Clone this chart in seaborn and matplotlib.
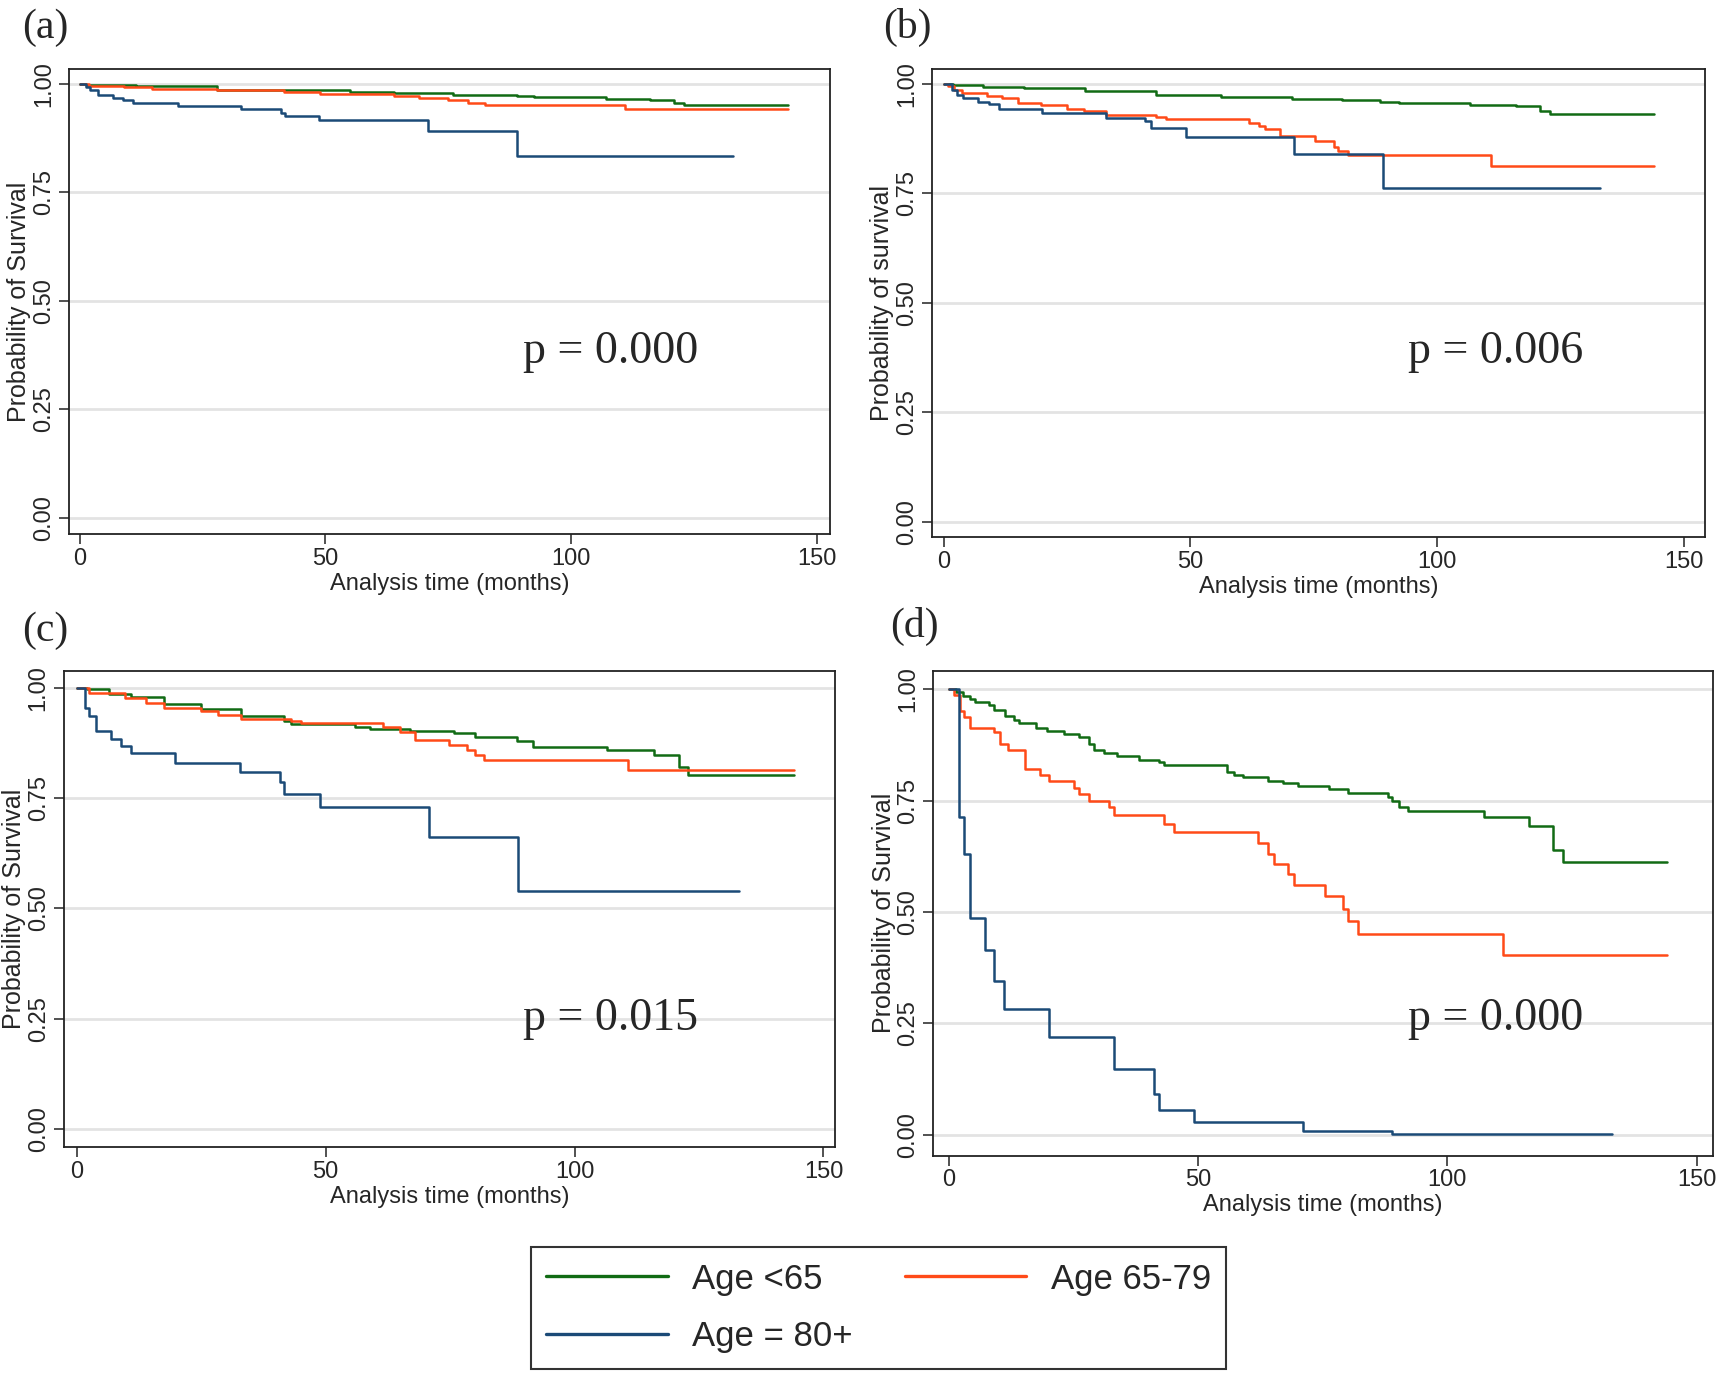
import numpy as np
import pandas as pd
import matplotlib
matplotlib.use('Agg')
import matplotlib.pyplot as plt
from matplotlib.lines import Line2D
import seaborn as sns

groups = ['Age <65', 'Age 65-79', 'Age = 80+']
palette = {'Age <65': '#116b14', 'Age 65-79': '#ff4a18', 'Age = 80+': '#1b4a77'}

# Kaplan-Meier step points (time in months, survival)
# panel (a)
a_young_t = [0, 1.3, 11.4, 28, 55, 64, 76, 89, 92.4, 107, 116, 121, 123, 144]
a_young_s = [1, 0.998, 0.994, 0.987, 0.982, 0.978, 0.975, 0.971, 0.969, 0.966, 0.964, 0.957, 0.952, 0.952]
a_mid_t = [0, 1.9, 9, 14.8, 28, 41.6, 49, 64, 69, 75, 79, 82.4, 111, 144]
a_mid_s = [1, 0.996, 0.992, 0.988, 0.985, 0.981, 0.977, 0.972, 0.967, 0.962, 0.957, 0.951, 0.943, 0.943]
a_old_t = [0, 1.3, 2.1, 3.8, 6.9, 8.9, 10.8, 20, 32.9, 41, 41.8, 48.8, 70.9, 89, 133]
a_old_s = [1, 0.992, 0.985, 0.974, 0.968, 0.962, 0.956, 0.950, 0.942, 0.934, 0.927, 0.916, 0.892, 0.834, 0.834]

# panel (b)
b_young_t = [0, 2, 8, 16.4, 28.6, 43, 56.3, 70.7, 80.7, 88.5, 92.4, 106.8, 116, 121, 123, 144]
b_young_s = [1, 0.997, 0.994, 0.990, 0.984, 0.976, 0.971, 0.966, 0.964, 0.960, 0.956, 0.953, 0.949, 0.939, 0.932, 0.932]
b_mid_t = [0, 0.9, 2.2, 3.7, 8.9, 11.8, 15, 19.7, 25, 28.4, 33, 43, 45, 61.9, 63.9, 65.2, 68.3, 75.2, 79.2, 80, 82, 111, 144]
b_mid_s = [1, 0.995, 0.986, 0.980, 0.973, 0.967, 0.957, 0.951, 0.944, 0.938, 0.930, 0.924, 0.919, 0.912, 0.904, 0.897, 0.881, 0.869, 0.857, 0.848, 0.837, 0.812, 0.812]
b_old_t = [0, 1.8, 2.7, 4.0, 7.0, 9.2, 11.2, 20, 33, 40.8, 42, 49.1, 71, 89, 133]
b_old_s = [1, 0.987, 0.976, 0.967, 0.960, 0.955, 0.943, 0.934, 0.922, 0.915, 0.899, 0.880, 0.840, 0.763, 0.763]

# panel (c)
c_young_t = [0, 2, 6.5, 10.9, 17.5, 25, 33, 41.7, 43, 56, 59, 67, 75.8, 80, 88.4, 91.7, 106.6, 116, 121, 122.8, 144]
c_young_s = [1, 0.997, 0.987, 0.979, 0.963, 0.953, 0.936, 0.926, 0.918, 0.911, 0.908, 0.903, 0.898, 0.889, 0.881, 0.867, 0.859, 0.849, 0.820, 0.802, 0.802]
c_mid_t = [0, 2.6, 9.8, 14, 17.5, 25, 28.5, 33, 43, 45, 61.5, 65, 68, 74.7, 78.5, 80, 81.8, 110.7, 144]
c_mid_s = [1, 0.990, 0.978, 0.966, 0.956, 0.947, 0.938, 0.931, 0.926, 0.921, 0.911, 0.901, 0.883, 0.872, 0.860, 0.849, 0.838, 0.814, 0.814]
c_old_t = [0, 1.65, 2.6, 3.85, 7.0, 8.9, 10.9, 19.7, 32.9, 40.8, 41.7, 48.8, 70.8, 88.7, 133]
c_old_s = [1, 0.954, 0.936, 0.903, 0.885, 0.869, 0.853, 0.831, 0.809, 0.786, 0.760, 0.730, 0.663, 0.539, 0.539]

# panel (d)
d_young_t = [0, 1.4, 2.9, 4.2, 5.3, 8.0, 9.1, 11.3, 13, 14.1, 17.4, 19.6, 23.1, 26.2, 28.1, 29.2, 31.1, 33.8,
             38.2, 42.1, 43.2, 55.8, 57.3, 59.1, 64.1, 67, 70.1, 76.2, 80, 88.2, 89, 90.4, 92.1, 107.3,
             116.3, 121.2, 123.2, 144]
d_young_s = [1, 0.993, 0.985, 0.978, 0.971, 0.965, 0.954, 0.940, 0.931, 0.924, 0.913, 0.906, 0.899, 0.892, 0.876,
             0.863, 0.857, 0.850, 0.842, 0.836, 0.829, 0.814, 0.808, 0.803, 0.795, 0.789, 0.783, 0.776, 0.767,
             0.757, 0.748, 0.736, 0.727, 0.712, 0.692, 0.639, 0.611, 0.611]
d_mid_t = [0, 1.1, 2.3, 3.1, 4.2, 9.1, 10.2, 11.9, 15.2, 18.2, 20.1, 25.1, 26.2, 28.1, 32.2, 33.1, 43.2, 45.1,
           62.1, 64.1, 65.2, 68.1, 69.2, 75.4, 79.1, 80, 82, 111.1, 144]
d_mid_s = [1, 0.988, 0.951, 0.938, 0.913, 0.903, 0.876, 0.863, 0.821, 0.808, 0.794, 0.779, 0.764, 0.750, 0.735,
           0.717, 0.697, 0.680, 0.655, 0.631, 0.607, 0.584, 0.560, 0.535, 0.506, 0.480, 0.450, 0.403, 0.403]
d_old_t = [0, 2.0, 3.1, 4.2, 7.3, 9.1, 11.1, 20.1, 33.1, 41.2, 42.1, 49.2, 71, 89, 133]
d_old_s = [1, 0.712, 0.631, 0.487, 0.414, 0.345, 0.281, 0.219, 0.148, 0.091, 0.055, 0.029, 0.009, 0.001, 0.001]

panel_tags = ['(a)', '(b)', '(c)', '(d)']
p_values = ['p = 0.000', 'p = 0.006', 'p = 0.015', 'p = 0.000']
y_labels = ['Probability of Survival', 'Probability of survival',
            'Probability of Survival', 'Probability of Survival']
x_label = 'Analysis time (months)'
x_ticks = [0, 50, 100, 150]
y_ticks = [0, 0.25, 0.5, 0.75, 1.0]
y_ticklabels = ['0.00', '0.25', '0.50', '0.75', '1.00']

curves = [
    [(a_young_t, a_young_s), (a_mid_t, a_mid_s), (a_old_t, a_old_s)],
    [(b_young_t, b_young_s), (b_mid_t, b_mid_s), (b_old_t, b_old_s)],
    [(c_young_t, c_young_s), (c_mid_t, c_mid_s), (c_old_t, c_old_s)],
    [(d_young_t, d_young_s), (d_mid_t, d_mid_s), (d_old_t, d_old_s)],
]

sns.set_theme(style='white')
plt.rcParams['font.family'] = ['Liberation Sans', 'DejaVu Sans']
sans = ['Liberation Sans', 'DejaVu Sans']
serif = ['Liberation Serif', 'DejaVu Serif']

fig = plt.figure(figsize=(17.19, 13.74), dpi=100)

# layout (figure fractions) and axis limits per panel
boxes = [[0.040, 0.611, 0.443, 0.339],
         [0.542, 0.609, 0.450, 0.341],
         [0.037, 0.165, 0.449, 0.347],
         [0.543, 0.159, 0.4535, 0.353]]
xlims = [(-2.2, 152.7), (-2.4, 154.4), (-2.6, 152.4), (-3.1, 153.3)]
ylims = [(-0.038, 1.035), (-0.035, 1.035), (-0.042, 1.040), (-0.047, 1.042)]
tag_pos = [(0.013, 0.980), (0.514, 0.980), (0.013, 0.541), (0.518, 0.544)]
p_pos = [(108, 0.384), (112, 0.389), (107.3, 0.249), (109.6, 0.259)]

for i in range(4):
    ax = fig.add_axes(boxes[i])
    frames = []
    for g, (t, s) in zip(groups, curves[i]):
        frames.append(pd.DataFrame({'time': t, 'surv': s, 'group': g}))
    df = pd.concat(frames, ignore_index=True)

    for yv in y_ticks:
        ax.axhline(yv, color='#e3e3e3', lw=2.0, zorder=0)

    sns.lineplot(data=df, x='time', y='surv', hue='group', palette=palette,
                 estimator=None, drawstyle='steps-post', linewidth=1.8,
                 legend=False, ax=ax, zorder=3)

    ax.set_xlim(*xlims[i])
    ax.set_ylim(*ylims[i])
    ax.set_xticks(x_ticks)
    ax.set_xticklabels([str(v) for v in x_ticks], family=sans, fontsize=17)
    ax.set_yticks(y_ticks)
    ax.set_yticklabels(y_ticklabels, fontsize=17, rotation=90, va='center')
    ax.tick_params(axis='both', direction='out', length=7, width=1.2, color='#333333',
                   left=True, bottom=True, pad=3)
    ax.set_xlabel(x_label, family=sans, fontsize=17, labelpad=2)
    ax.set_ylabel(y_labels[i], fontsize=18, labelpad=1)
    for sp in ax.spines.values():
        sp.set_color('#222222')
        sp.set_linewidth(1.3)
    ax.grid(False)

    ax.text(p_pos[i][0], p_pos[i][1], p_values[i], family=serif, fontsize=33,
            ha='center', va='center')
    fig.text(tag_pos[i][0], tag_pos[i][1], panel_tags[i], family=serif, fontsize=30,
             ha='left', va='center')

# legend, filled column-wise so that rows read: <65, 65-79 / 80+
order = ['Age <65', 'Age = 80+', 'Age 65-79']
handles = [Line2D([], [], color=palette[g], lw=2.4) for g in order]
leg = fig.legend(handles, order, loc='lower center', bbox_to_anchor=(0.511, 0.004),
                 borderaxespad=0, ncol=2, frameon=True, fancybox=False, edgecolor='black',
                 handlelength=3.5, handletextpad=0.7, columnspacing=1.5,
                 labelspacing=0.7, borderpad=0.45,
                 prop={'family': sans, 'size': 25})
leg.get_frame().set_linewidth(1.5)

plt.savefig('out.png', dpi=100)
